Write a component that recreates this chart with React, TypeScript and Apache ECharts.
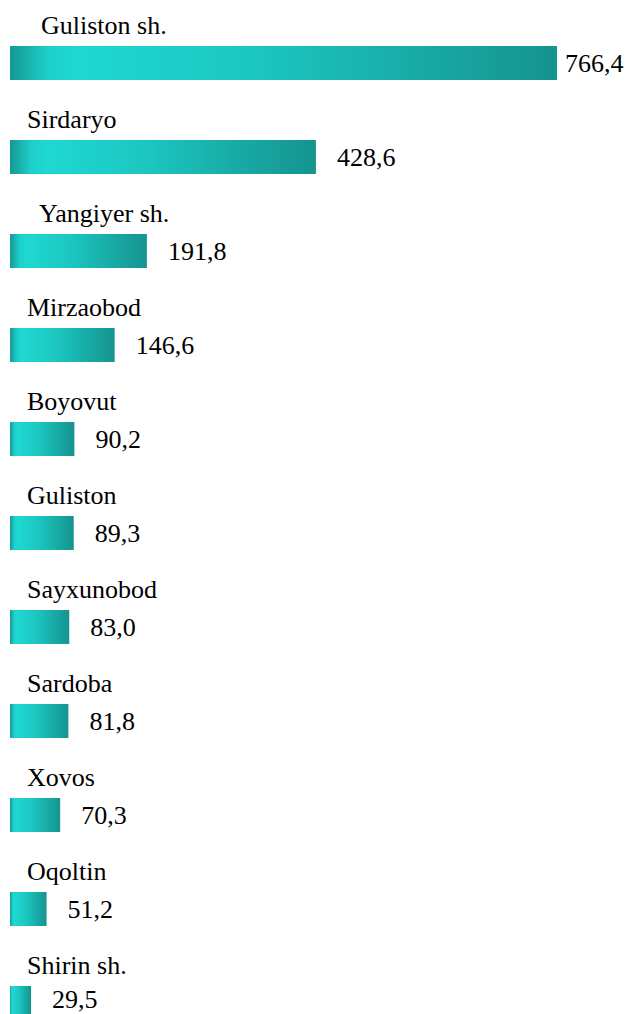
import React, { useEffect, useRef } from "react";
import * as echarts from "echarts";

const categories = [
  "Guliston sh.",
  "Sirdaryo",
  "Yangiyer sh.",
  "Mirzaobod",
  "Boyovut",
  "Guliston",
  "Sayxunobod",
  "Sardoba",
  "Xovos",
  "Oqoltin",
  "Shirin sh.",
];
const values = [766.4, 428.6, 191.8, 146.6, 90.2, 89.3, 83.0, 81.8, 70.3, 51.2, 29.5];

const FONT = "Liberation Serif";

export default function App() {
  const ref = useRef<HTMLDivElement>(null);
  useEffect(() => {
    document.body.style.margin = "0";
    document.body.style.overflow = "hidden";
    const chart = echarts.init(ref.current!, null, { renderer: "svg" });
    const grad = new echarts.graphic.LinearGradient(0, 0, 1, 0, [
      { offset: 0, color: "#169894" },
      { offset: 0.07, color: "#1ecfca" },
      { offset: 0.12, color: "#1fd8d2" },
      { offset: 0.45, color: "#1cc6c0" },
      { offset: 1, color: "#15938f" },
    ]);
    const txt = { fontFamily: FONT, fontSize: 26, color: "#000" };
    const last = values.length - 1;
    chart.setOption({
      animation: false,
      textStyle: { fontFamily: FONT },
      grid: { left: 10, top: 16, width: 571, bottom: 0 },
      xAxis: {
        type: "value",
        min: 0,
        max: 800,
        show: false,
      },
      yAxis: {
        type: "category",
        inverse: true,
        data: categories,
        axisLine: { show: false },
        axisTick: { show: false },
        splitLine: { show: false },
        axisLabel: {
          inside: true,
          margin: 17,
          align: "left",
          verticalAlign: "bottom",
          ...txt,
          formatter: (v: string, i: number) =>
            i === 0 ? `{a|${v}}` : i === 2 ? `{b|${v}}` : `{c|${v}}`,
          rich: {
            a: { ...txt, padding: [0, 0, 25, 14] },
            b: { ...txt, padding: [0, 0, 25, 12] },
            c: { ...txt, padding: [0, 0, 25, 0] },
          },
        },
      },
      series: [
        {
          type: "bar",
          barWidth: 34,
          itemStyle: { color: grad },
          data: values.map((v, i) => ({
            value: v,
            label:
              i === 0
                ? { distance: 8 }
                : i === last
                ? { offset: [0, -4] }
                : undefined,
          })),
          label: {
            show: true,
            position: "right",
            distance: 21,
            ...txt,
            formatter: (p: any) => p.value.toFixed(1).replace(".", ","),
          },
        },
      ],
    });
    return () => chart.dispose();
  }, []);
  return <div ref={ref} style={{ width: 631, height: 1050 }} />;
}
